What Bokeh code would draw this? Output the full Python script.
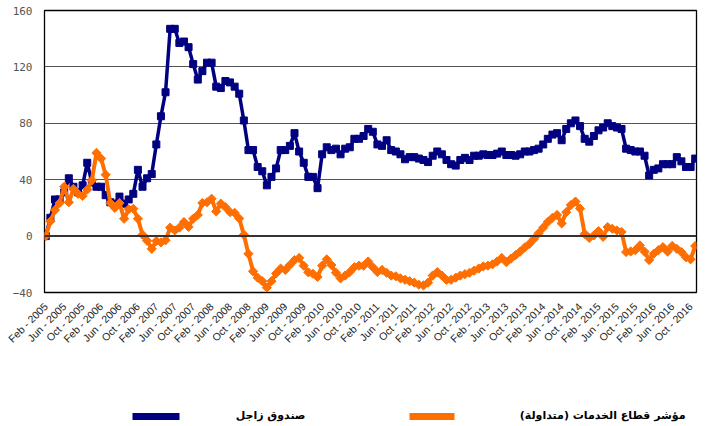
import numpy as np
from bokeh.plotting import figure
from bokeh.models import Range1d, FixedTicker, Span
from bokeh.layouts import column
from bokeh.embed import file_html
from bokeh.resources import INLINE
from bokeh.core.properties import value

# Monthly values, Feb 2005 onward (percent change since start)
zajel = [0, 13, 26, 26, 31, 41, 35, 31, 36, 52,
         38, 35, 35, 29, 24, 23, 28, 23, 26, 30,
         47, 35, 41, 44, 65, 85, 102, 147, 147, 137,
         138, 134, 122, 111, 117, 123, 123, 106, 105, 110,
         109, 106, 101, 82, 61, 61, 49, 46, 36, 42,
         48, 61, 61, 64, 73, 60, 52, 42, 42, 34,
         58, 63, 61, 62, 58, 62, 63, 69, 69, 71,
         76, 74, 65, 64, 68, 61, 60, 58, 54.5, 56,
         56, 55, 54, 52.5, 57, 60, 58, 54, 51, 50,
         54, 55.5, 54, 57, 57, 58, 57.5, 57.5, 58.5, 60,
         57.5, 57.5, 57, 58, 60, 60, 61, 62, 65, 69,
         72, 73, 68, 76, 80, 82, 78, 69, 67, 71,
         75, 77, 80, 78, 77, 76, 62, 61, 60, 60,
         57, 43, 47, 48, 51, 51, 51, 56, 53, 49,
         49, 55]

services = [0, 10.5, 18.5, 23.5, 35, 24, 33.5, 30, 28.5, 33,
            39.5, 59, 55, 43.5, 23.5, 20, 23.5, 12.3, 19, 19.4,
            12.3, 1, -3.3, -9, -3.5, -4.5, -3, 6, 4, 6,
            10, 6.5, 12.3, 15, 23.5, 24, 26.5, 17.5, 23, 20.5,
            17, 16.5, 12.5, 1, -12.5, -25, -29.5, -32, -36.5, -32,
            -26.5, -23, -24, -20.5, -17, -15.5, -21, -25.7, -26.7, -29,
            -21, -16.5, -20.5, -26, -30, -28, -25.5, -22, -21, -21,
            -18, -22, -25.5, -24, -26, -28, -28.5, -30, -31, -32,
            -33, -34.5, -35, -33, -28, -25.5, -28, -31, -31, -29.5,
            -28, -27, -26, -24.5, -23, -21.5, -21, -20, -18, -15.5,
            -18.5, -16, -13.5, -11, -8, -5.5, -2, 2, 6, 10,
            13, 15, 9, 17, 22, 24.5, 19.5, 1.6, -1.3, 0.5,
            3.5, -0.5, 6.4, 5.2, 4, 3, -11.3, -10.9, -10, -6.6,
            -11, -17, -12.5, -10, -7.8, -11, -7, -9, -11.3, -15,
            -16.5, -7]

tick_labels = ["Feb - 2005", "Jun - 2005", "Oct - 2005",
               "Feb - 2006", "Jun - 2006", "Oct - 2006",
               "Feb - 2007", "Jun - 2007", "Oct - 2007",
               "Feb - 2008", "Jun - 2008", "Oct - 2008",
               "Feb - 2009", "Jun - 2009", "Oct - 2009",
               "Feb - 2010", "Jun - 2010", "Oct - 2010",
               "Feb - 2011", "Jun - 2011", "Oct - 2011",
               "Feb - 2012", "Jun - 2012", "Oct - 2012",
               "Feb - 2013", "Jun - 2013", "Oct - 2013",
               "Feb - 2014", "Jun - 2014", "Oct - 2014",
               "Feb - 2015", "Jun - 2015", "Oct - 2015",
               "Feb - 2016", "Jun - 2016", "Oct - 2016"]
y_ticks = [-40, 0, 40, 80, 120, 160]
series_names = ["صندوق زاجل", "مؤشر قطاع الخدمات (متداولة)"]

BLUE = "#000080"
ORANGE = "#FF6E00"

months = list(range(len(zajel)))
tick_step = 4
tick_pos = [i * tick_step for i in range(len(tick_labels))]

p = figure(width=709, height=400, output_backend="svg", toolbar_location=None,
           x_range=Range1d(-0.28, len(zajel) - 1 + 0.28),
           y_range=Range1d(y_ticks[0], y_ticks[-1]),
           min_border_left=44, min_border_right=13, min_border_top=10,
           min_border_bottom=108)
p.background_fill_color = "white"
p.border_fill_color = "white"
p.outline_line_color = "black"
p.outline_line_width = 1.3

p.xgrid.visible = False
p.ygrid.ticker = FixedTicker(ticks=y_ticks[2:-1])
p.ygrid.grid_line_color = "#555555"
p.ygrid.grid_line_width = 1

zero = Span(location=0, dimension="width", line_color="#333333", line_width=2)
p.add_layout(zero)

p.yaxis.ticker = FixedTicker(ticks=y_ticks)
p.yaxis.axis_line_color = None
p.yaxis.major_tick_line_color = None
p.yaxis.minor_tick_line_color = None
p.yaxis.major_label_text_font = "DejaVu Sans Mono"
p.yaxis.major_label_text_font_size = "11px"
p.yaxis.major_label_text_color = "#555555"
p.yaxis.major_label_standoff = 6

p.xaxis.ticker = FixedTicker(ticks=tick_pos)
p.xaxis.major_label_overrides = {pos: lab for pos, lab in zip(tick_pos, tick_labels)}
p.xaxis.major_label_orientation = np.pi / 4
p.xaxis.axis_line_color = None
p.xaxis.major_tick_line_color = None
p.xaxis.minor_tick_line_color = None
p.xaxis.major_label_text_font = "Liberation Sans"
p.xaxis.major_label_text_font_size = "10.5px"
p.xaxis.major_label_text_color = "#222222"
p.xaxis.major_label_standoff = 6

p.line(months, zajel, line_color=BLUE, line_width=3.5)
p.scatter(months, zajel, marker="square", size=7, fill_color=BLUE, line_color=BLUE)
p.line(months, services, line_color=ORANGE, line_width=4)
p.scatter(months, services, marker="square", angle=np.pi / 4, size=6.5,
          fill_color=ORANGE, line_color=ORANGE)

# legend strip (its frame is aligned with the main plot frame: 44..696 px)
leg = figure(width=709, height=26, output_backend="svg", toolbar_location=None,
             x_range=Range1d(44, 696), y_range=Range1d(0, 26),
             min_border_left=44, min_border_right=13, min_border_top=0,
             min_border_bottom=0)
leg.axis.visible = False
leg.grid.visible = False
leg.outline_line_color = None
leg.segment(x0=[132, 409], y0=[10, 10], x1=[179, 454], y1=[10, 10],
            line_color=[BLUE, ORANGE], line_width=7)
leg.text(x=[305, 685], y=[11, 11], text=series_names,
         text_font=value("DejaVu Sans"), text_font_style="bold",
         text_font_size="11px", text_align="right", text_baseline="middle",
         text_color="black")

layout = column(p, leg, spacing=0)
open("out.html", "w").write(file_html(layout, INLINE))
